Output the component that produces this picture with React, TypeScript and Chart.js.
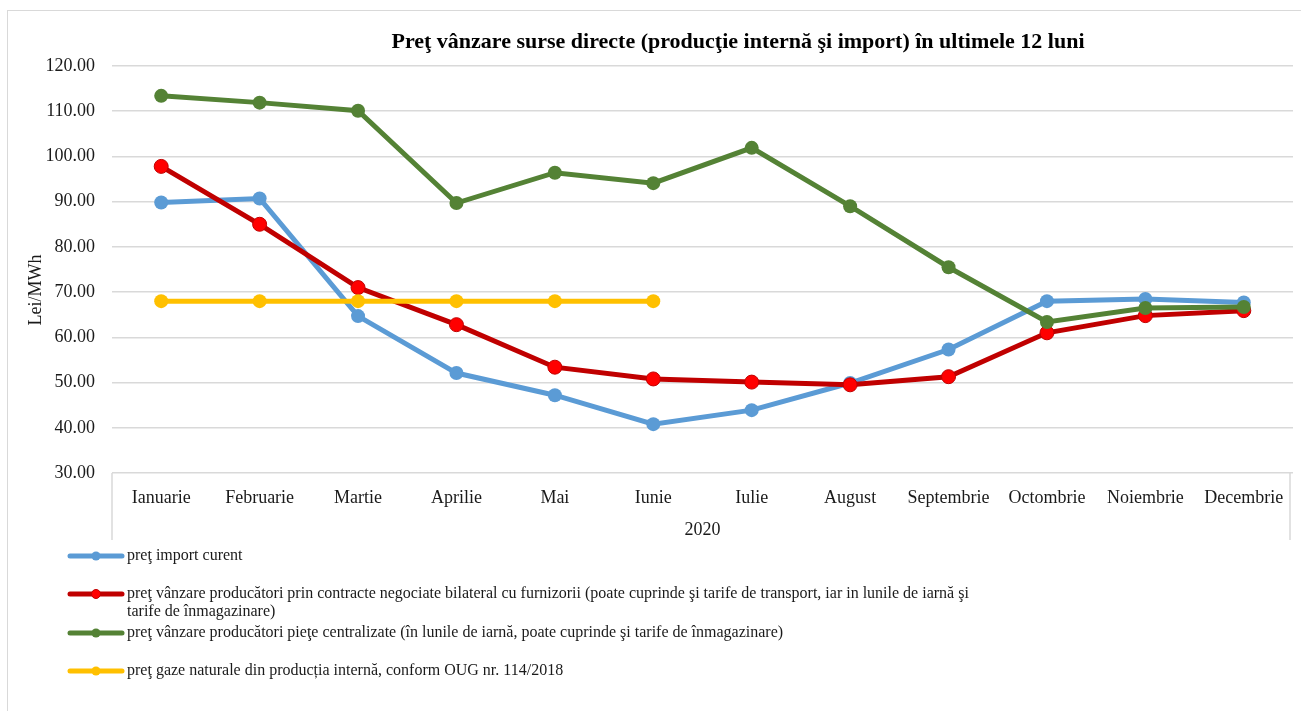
import React, { useEffect, useRef } from "react";
import { Chart, registerables } from "chart.js";

Chart.register(...registerables);

const chartTitle = "Preţ vânzare surse directe (producţie internă şi import) în ultimele 12 luni";
const yAxisTitle = "Lei/MWh";
const xGroupLabel = "2020";

const months = [
  "Ianuarie", "Februarie", "Martie", "Aprilie", "Mai", "Iunie",
  "Iulie", "August", "Septembrie", "Octombrie", "Noiembrie", "Decembrie",
];

const importPrice = [89.8, 90.7, 64.7, 52.1, 47.2, 40.8, 43.9, 49.9, 57.3, 68.0, 68.5, 67.7];
const bilateralPrice = [97.8, 85.0, 71.0, 62.8, 53.4, 50.8, 50.1, 49.5, 51.3, 61.0, 64.8, 65.9];
const centralizedPrice = [113.4, 111.9, 110.1, 89.7, 96.4, 94.1, 101.9, 89.0, 75.5, 63.4, 66.5, 66.7];
const domesticPrice = [68.0, 68.0, 68.0, 68.0, 68.0, 68.0, null, null, null, null, null, null];

const legendImport = ["preţ import curent"];
const legendBilateral = [
  "preţ vânzare producători prin contracte negociate bilateral cu furnizorii (poate cuprinde şi tarife de transport, iar in lunile de iarnă şi",
  "tarife de înmagazinare)",
];
const legendCentralized = [
  "preţ vânzare producători pieţe centralizate (în lunile de iarnă, poate cuprinde şi tarife de înmagazinare)",
];
const legendDomestic = ["preţ gaze naturale din producția internă, conform OUG nr. 114/2018"];

const yMin = 30;
const yMax = 120;
const yStep = 10;

const FONT = '"Liberation Serif", "Times New Roman", serif';
const TEXT = "#1a1a1a";
const GRID = "#d9d9d9";

const BLUE = "#5b9bd5";
const RED_LINE = "#c00000";
const RED_POINT = "#ff0000";
const GREEN = "#548235";
const YELLOW = "#ffc000";

const legendItems = [
  { lines: legendImport, color: BLUE, point: BLUE, y: 545 },
  { lines: legendBilateral, color: RED_LINE, point: RED_POINT, y: 583 },
  { lines: legendCentralized, color: GREEN, point: GREEN, y: 622 },
  { lines: legendDomestic, color: YELLOW, point: YELLOW, y: 660 },
];

const extrasPlugin = {
  id: "extras",
  afterDraw(chart: any) {
    const ctx = chart.ctx as CanvasRenderingContext2D;
    const area = chart.chartArea;
    ctx.save();

    // title
    ctx.fillStyle = "#000";
    ctx.font = `bold 22px ${FONT}`;
    ctx.textAlign = "center";
    ctx.textBaseline = "middle";
    ctx.fillText(chartTitle, 730, 31);

    // y axis title
    ctx.save();
    ctx.translate(28, 279);
    ctx.rotate(-Math.PI / 2);
    ctx.font = `18px ${FONT}`;
    ctx.fillStyle = TEXT;
    ctx.fillText(yAxisTitle, 0, 0);
    ctx.restore();

    // category box
    ctx.strokeStyle = GRID;
    ctx.lineWidth = 1.5;
    ctx.beginPath();
    ctx.moveTo(area.left, area.bottom);
    ctx.lineTo(area.left, 529);
    ctx.moveTo(area.right - 3, area.bottom);
    ctx.lineTo(area.right - 3, 529);
    ctx.stroke();

    // group label
    ctx.font = `18px ${FONT}`;
    ctx.fillStyle = TEXT;
    ctx.textAlign = "center";
    ctx.fillText(xGroupLabel, (area.left + area.right) / 2, 519);

    // legend
    for (const item of legendItems) {
      ctx.strokeStyle = item.color;
      ctx.lineWidth = 5;
      ctx.lineCap = "round";
      ctx.beginPath();
      ctx.moveTo(62, item.y);
      ctx.lineTo(114, item.y);
      ctx.stroke();
      ctx.fillStyle = item.point;
      ctx.beginPath();
      ctx.arc(88, item.y, 4.5, 0, Math.PI * 2);
      ctx.fill();
      if (item.point !== item.color) {
        ctx.strokeStyle = item.color;
        ctx.lineWidth = 1;
        ctx.stroke();
      }
      ctx.font = `16px ${FONT}`;
      ctx.fillStyle = TEXT;
      ctx.textAlign = "left";
      ctx.textBaseline = "middle";
      item.lines.forEach((line, i) => {
        ctx.fillText(line, 119, item.y + i * 17.5);
      });
    }

    ctx.restore();
  },
};

export default function App() {
  const canvasRef = useRef<HTMLCanvasElement | null>(null);

  useEffect(() => {
    const canvas = canvasRef.current;
    if (!canvas) return;
    const mk = (data: (number | null)[], line: string, point: string, order: number) => ({
      data,
      borderColor: line,
      backgroundColor: point,
      pointBackgroundColor: point,
      pointBorderColor: line,
      pointBorderWidth: point === line ? 0 : 1,
      pointRadius: 7,
      borderWidth: 5,
      tension: 0,
      spanGaps: false,
      order,
    });
    const chart = new Chart(canvas, {
      type: "line",
      data: {
        labels: months,
        datasets: [
          mk(importPrice, BLUE, BLUE, 3),
          mk(bilateralPrice, RED_LINE, RED_POINT, 2),
          mk(centralizedPrice, GREEN, GREEN, 1),
          mk(domesticPrice, YELLOW, YELLOW, 0),
        ] as any,
      },
      options: {
        animation: false,
        responsive: false,
        maintainAspectRatio: false,
        layout: { padding: { top: 55, right: 8, left: 0, bottom: 0 } },
        plugins: {
          legend: { display: false },
          title: { display: false },
          tooltip: { enabled: false },
        },
        scales: {
          x: {
            type: "category",
            offset: true,
            grid: { display: false, drawTicks: false },
            border: { display: false },
            ticks: {
              color: TEXT,
              font: { family: FONT, size: 18 },
              padding: 14,
              maxRotation: 0,
              autoSkip: false,
            },
            afterFit: (s: any) => {
              s.height = 238;
            },
          },
          y: {
            min: yMin,
            max: yMax,
            grid: { color: GRID, lineWidth: 1.5, drawTicks: false },
            border: { display: false },
            ticks: {
              stepSize: yStep,
              color: TEXT,
              font: { family: FONT, size: 18 },
              padding: 17,
              callback: (v: any) => Number(v).toFixed(2),
            },
            afterFit: (s: any) => {
              s.width = 104;
            },
          },
        },
      },
      plugins: [extrasPlugin],
    });
    return () => chart.destroy();
  }, []);

  return (
    <div
      style={{
        position: "absolute",
        left: 7,
        top: 10,
        width: 1310,
        height: 720,
        border: `1px solid ${GRID}`,
        boxSizing: "border-box",
        background: "#fff",
      }}
    >
      <canvas ref={canvasRef} width={1293} height={700} style={{ display: "block" }} />
    </div>
  );
}
